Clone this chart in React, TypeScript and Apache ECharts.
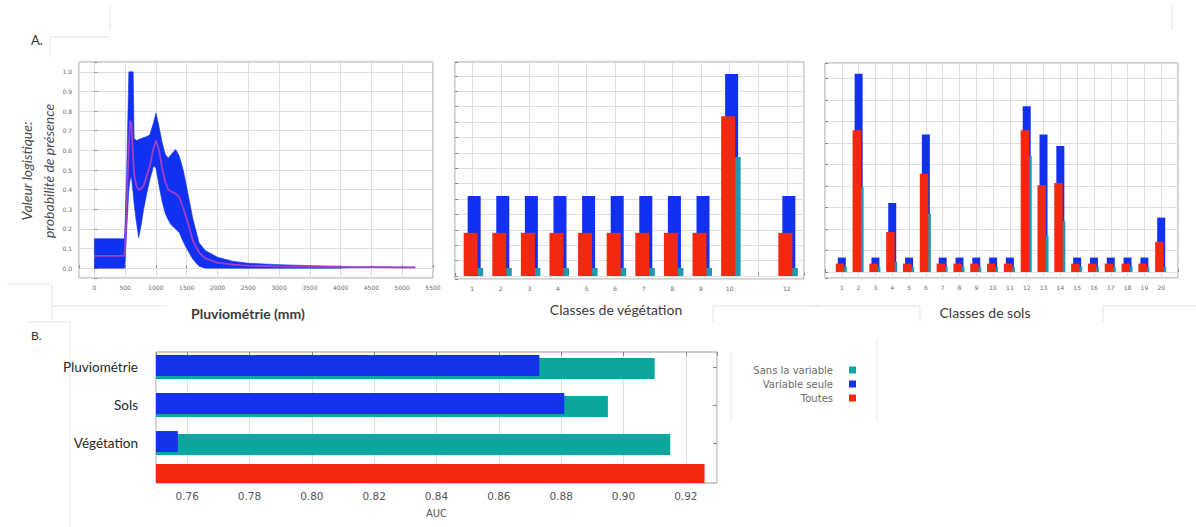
import React, { useEffect, useRef } from 'react';
import * as echarts from 'echarts';

// --- A. Courbe de réponse : pluviométrie (moyenne ± écart-type) ---
const rainfallMm = [0, 488, 500, 525, 560, 580, 600, 630, 645, 680, 720, 760, 800, 850, 900, 960, 1000, 1050, 1100, 1150, 1200, 1250, 1320, 1380, 1450, 1500, 1600, 1700, 1800, 2000, 2250, 2500, 3000, 3500, 4000, 4100, 4500, 5000, 5210];
const rainUpper = [0.15, 0.15, 0.24, 0.5, 1.0, 1.0, 1.0, 1.0, 0.66, 0.65, 0.655, 0.66, 0.665, 0.67, 0.68, 0.74, 0.79, 0.72, 0.64, 0.58, 0.56, 0.58, 0.605, 0.57, 0.49, 0.41, 0.25, 0.13, 0.09, 0.056, 0.035, 0.025, 0.018, 0.013, 0.01, 0.006, 0.006, 0.005, 0.005];
const rainLower = [0, 0, 0.03, 0.2, 0.4, 0.45, 0.47, 0.38, 0.33, 0.24, 0.155, 0.22, 0.3, 0.38, 0.45, 0.52, 0.51, 0.42, 0.34, 0.28, 0.245, 0.22, 0.2, 0.18, 0.13, 0.1, 0.045, 0.01, 0, 0, 0, 0, 0, 0, 0, 0.002, 0.003, 0.003, 0.003];
const rainMean = [0.063, 0.063, 0.12, 0.33, 0.62, 0.75, 0.74, 0.56, 0.48, 0.42, 0.4, 0.405, 0.42, 0.47, 0.52, 0.61, 0.65, 0.6, 0.51, 0.44, 0.4, 0.39, 0.38, 0.36, 0.3, 0.25, 0.14, 0.08, 0.05, 0.028, 0.018, 0.013, 0.009, 0.007, 0.006, 0.005, 0.005, 0.004, 0.004];

// --- Classes de végétation ---
const vegClasses = [1, 2, 3, 4, 5, 6, 7, 8, 9, 10, 12];
const vegTickLabels = ['1', '2', '3', '4', '5', '6', '7', '8', '9', '10', '12'];
const vegMeanPlusSd = [0.26, 0.26, 0.26, 0.26, 0.26, 0.26, 0.26, 0.26, 0.26, 0.656, 0.26];
const vegMean = [0.14, 0.14, 0.14, 0.14, 0.14, 0.14, 0.14, 0.14, 0.14, 0.519, 0.14];
const vegAlone = [0.026, 0.026, 0.026, 0.026, 0.026, 0.026, 0.026, 0.026, 0.026, 0.386, 0.026];

// --- Classes de sols ---
const soilClasses = [1, 2, 3, 4, 5, 6, 7, 8, 9, 10, 11, 12, 13, 14, 15, 16, 17, 18, 19, 20];
const soilMeanPlusSd = [0.067, 0.922, 0.067, 0.321, 0.067, 0.639, 0.067, 0.067, 0.067, 0.067, 0.067, 0.771, 0.639, 0.586, 0.067, 0.067, 0.067, 0.067, 0.067, 0.253];
const soilMean = [0.039, 0.659, 0.039, 0.186, 0.039, 0.457, 0.039, 0.039, 0.039, 0.039, 0.039, 0.659, 0.403, 0.414, 0.039, 0.039, 0.039, 0.039, 0.039, 0.14];
const soilAlone = [0.023, 0.395, 0.023, 0.047, 0.023, 0.27, 0.023, 0.023, 0.023, 0.023, 0.023, 0.54, 0.17, 0.237, 0.023, 0.023, 0.023, 0.023, 0.023, 0.023];

// --- B. Test de Jackknife (AUC) ---
const aucVariables = ['Pluviométrie', 'Sols', 'Végétation'];
const aucWithout = [0.91, 0.895, 0.915];
const aucOnly = [0.873, 0.881, 0.757];
const aucAllRow = ['Toutes'];
const aucAll = [0.926];

const BLUE = '#1230f0';
const RED = '#f4280e';
const CYAN = '#1f98b0';
const MEAN_LINE = '#a23fc9';
const TEAL = '#0ba79e';
const GRID_LINE = '#dedede';
const FRAME = '#9a9a9a';

const zip = (xs: number[], ys: (number | null)[]) => xs.map((x, i) => [x, ys[i]]);

function classBars(offset: number, width: number, color: string) {
  return function (params: any, api: any) {
    const cls = api.value(0);
    const val = api.value(1);
    const top = api.coord([cls, val]);
    const base = api.coord([cls, 0]);
    return {
      type: 'rect',
      shape: { x: top[0] + offset - width / 2, y: top[1], width, height: base[1] - top[1] },
      style: { fill: color },
    };
  };
}

function rainBand(params: any, api: any) {
  if (params.dataIndexInside !== 0) return null;
  const n = params.dataInsideLength;
  const pts: number[][] = [];
  for (let i = 0; i < n; i++) pts.push(api.coord([api.value(0, i), api.value(2, i)]));
  for (let i = n - 1; i >= 0; i--) pts.push(api.coord([api.value(0, i), api.value(1, i)]));
  return {
    type: 'polygon',
    shape: { points: pts },
    style: { fill: BLUE, stroke: BLUE, lineWidth: 0.6 },
  };
}

const tinyLabel = { fontSize: 6, color: '#6a6a6a', fontFamily: 'DejaVu Sans' };
const innerTick = { show: true, inside: true, length: 3, lineStyle: { color: '#888' } };
const gridSplit = { show: true, lineStyle: { color: GRID_LINE, width: 1 } };
const near = (a: number, b: number) => Math.abs(a - b) < 1e-6;

function faintLine(x1: number, y1: number, x2: number, y2: number) {
  return { type: 'line', shape: { x1, y1, x2, y2 }, style: { stroke: '#e4e4e4', lineWidth: 1 }, silent: true };
}

// AUC axis shared by the framed panel and the bar rows
const aucAxisRange = { type: 'value', min: 0.75, max: 0.93, splitNumber: 9, minInterval: 0.02, maxInterval: 0.02 };
const hiddenAxis = { axisLine: { show: false }, axisTick: { show: false }, axisLabel: { show: false }, splitLine: { show: false } };

function buildOption(): any {
  const frame = { show: true, borderColor: FRAME, borderWidth: 1, backgroundColor: '#fff' };
  return {
    animation: false,
    backgroundColor: '#fff',
    grid: [
      { left: 79, top: 62, width: 354, height: 216, ...frame },
      { left: 455, top: 62, width: 349, height: 217, ...frame },
      { left: 825, top: 63, width: 353, height: 215, ...frame },
      { left: 156, top: 352, width: 561, height: 131, ...frame },
      { left: 156, top: 348, width: 561, height: 114 },
      { left: 156, top: 464, width: 561, height: 19 },
    ],
    xAxis: [
      {
        type: 'value', gridIndex: 0, min: -250, max: 5500, splitNumber: 11, minInterval: 500, maxInterval: 500,
        axisLine: { show: false }, axisTick: innerTick, splitLine: gridSplit,
        axisLabel: { ...tinyLabel, margin: 6, formatter: (v: number) => (v >= 0 ? String(v) : '') },
      },
      {
        type: 'value', gridIndex: 1, min: 0.4, max: 12.6, splitNumber: 12, minInterval: 1, maxInterval: 1,
        axisLine: { show: false }, axisTick: innerTick, splitLine: gridSplit,
        axisLabel: {
          ...tinyLabel, margin: 6,
          formatter: (v: number) => (near(v, Math.round(v)) && vegTickLabels.includes(String(Math.round(v))) ? String(Math.round(v)) : ''),
        },
      },
      {
        type: 'value', gridIndex: 2, min: 0, max: 21, interval: 1,
        axisLine: { show: false }, axisTick: innerTick, splitLine: gridSplit,
        axisLabel: { ...tinyLabel, margin: 6, formatter: (v: number) => (v >= 1 && v <= 20 ? String(v) : '') },
      },
      {
        ...aucAxisRange, gridIndex: 3,
        axisLine: { show: false }, axisTick: { show: false }, splitLine: gridSplit,
        axisLabel: {
          fontSize: 10.5, color: '#555', fontFamily: 'DejaVu Sans', margin: 7,
          formatter: (v: number) => (v > 0.755 && v < 0.925 ? v.toFixed(2) : ''),
        },
        name: 'AUC', nameLocation: 'middle', nameGap: 25,
        nameTextStyle: { fontSize: 10, color: '#555', fontFamily: 'DejaVu Sans' },
      },
      {
        ...aucAxisRange, gridIndex: 3, position: 'top',
        axisLine: { show: false }, axisTick: { show: true, inside: true, length: 4, lineStyle: { color: '#888' } },
        axisLabel: { show: false }, splitLine: { show: false },
      },
      { ...aucAxisRange, gridIndex: 4, ...hiddenAxis },
      { ...aucAxisRange, gridIndex: 5, ...hiddenAxis },
    ],
    yAxis: [
      {
        type: 'value', gridIndex: 0, min: -0.05, max: 1.05, splitNumber: 11, minInterval: 0.1, maxInterval: 0.1,
        axisLine: { show: false }, axisTick: innerTick, splitLine: gridSplit,
        axisLabel: { ...tinyLabel, margin: 7, formatter: (v: number) => (v > -0.001 && v < 1.001 ? v.toFixed(1) : '') },
      },
      {
        type: 'value', gridIndex: 1, min: -0.01, max: 0.695, splitNumber: 14, minInterval: 0.05, maxInterval: 0.05,
        axisLine: { show: false }, axisTick: innerTick, splitLine: gridSplit, axisLabel: { show: false },
      },
      {
        type: 'value', gridIndex: 2, min: -0.028, max: 0.972, splitNumber: 10, minInterval: 0.1, maxInterval: 0.1,
        axisLine: { show: false }, axisTick: innerTick, splitLine: gridSplit, axisLabel: { show: false },
      },
      { type: 'value', gridIndex: 3, show: false },
      {
        type: 'category', gridIndex: 4, data: aucVariables, inverse: true,
        axisLine: { show: false }, axisTick: { show: false }, splitLine: { show: false },
        axisLabel: { fontSize: 13.5, color: '#262626', fontFamily: 'Lato', margin: 18 },
      },
      {
        type: 'category', gridIndex: 4, data: aucVariables, inverse: true, position: 'right',
        axisLine: { show: false }, axisLabel: { show: false }, splitLine: { show: false },
        axisTick: { show: true, inside: true, length: 4, alignWithLabel: true, lineStyle: { color: '#888' } },
      },
      { type: 'category', gridIndex: 5, data: aucAllRow, ...hiddenAxis },
    ],
    legend: {
      data: ['Sans la variable', 'Variable seule', 'Toutes'],
      orient: 'vertical', align: 'right', right: 335, top: 360,
      itemWidth: 7, itemHeight: 7, itemGap: 4, icon: 'rect', selectedMode: false,
      textStyle: { fontSize: 10, color: '#6a6a6a', fontFamily: 'DejaVu Sans', padding: [0, 11, 0, 0] },
    },
    series: [
      {
        type: 'custom', name: 'bande', xAxisIndex: 0, yAxisIndex: 0, clip: true,
        data: rainfallMm.map((x, i) => [x, rainLower[i], rainUpper[i]]),
        encode: { x: 0, y: [1, 2] }, renderItem: rainBand,
      },
      {
        type: 'line', name: 'moyenne', xAxisIndex: 0, yAxisIndex: 0, symbol: 'none',
        data: zip(rainfallMm, rainMean), lineStyle: { color: MEAN_LINE, width: 1.8 }, itemStyle: { color: MEAN_LINE },
      },
      { type: 'custom', xAxisIndex: 1, yAxisIndex: 1, clip: true, data: zip(vegClasses, vegMeanPlusSd), encode: { x: 0, y: 1 }, renderItem: classBars(2, 13, BLUE) },
      { type: 'custom', xAxisIndex: 1, yAxisIndex: 1, clip: true, data: zip(vegClasses, vegAlone), encode: { x: 0, y: 1 }, renderItem: classBars(8, 6, CYAN) },
      { type: 'custom', xAxisIndex: 1, yAxisIndex: 1, clip: true, data: zip(vegClasses, vegMean), encode: { x: 0, y: 1 }, renderItem: classBars(-1.5, 14, RED) },
      { type: 'custom', xAxisIndex: 2, yAxisIndex: 2, clip: true, data: zip(soilClasses, soilMeanPlusSd), encode: { x: 0, y: 1 }, renderItem: classBars(0, 8, BLUE) },
      { type: 'custom', xAxisIndex: 2, yAxisIndex: 2, clip: true, data: zip(soilClasses, soilAlone), encode: { x: 0, y: 1 }, renderItem: classBars(3.5, 3, CYAN) },
      { type: 'custom', xAxisIndex: 2, yAxisIndex: 2, clip: true, data: zip(soilClasses, soilMean), encode: { x: 0, y: 1 }, renderItem: classBars(-1.8, 8.5, RED) },
      {
        type: 'bar', name: 'Variable seule', xAxisIndex: 5, yAxisIndex: 4, data: aucOnly,
        barWidth: 21, z: 3, itemStyle: { color: '#1433e8' },
      },
      {
        type: 'bar', name: 'Sans la variable', xAxisIndex: 5, yAxisIndex: 4, data: aucWithout,
        barWidth: 21, barGap: '-86%', z: 2, itemStyle: { color: TEAL },
      },
      {
        type: 'bar', name: 'Toutes', xAxisIndex: 6, yAxisIndex: 6, data: aucAll,
        barWidth: 19, itemStyle: { color: RED },
      },
    ],
    graphic: [
      faintLine(110, 6, 110, 30),
      faintLine(1172, 6, 1172, 30),
      faintLine(50, 37, 110, 37),
      faintLine(50, 37, 50, 57),
      faintLine(7, 284, 50, 284),
      faintLine(52, 284, 52, 320),
      faintLine(52, 306, 167, 306),
      faintLine(713, 306, 820, 306),
      faintLine(713, 306, 713, 322),
      faintLine(810, 306, 920, 306),
      faintLine(920, 306, 920, 322),
      faintLine(1103, 306, 1196, 306),
      faintLine(1103, 306, 1103, 322),
      faintLine(28, 322, 70, 322),
      faintLine(70, 322, 70, 527),
      faintLine(731, 352, 731, 420),
      faintLine(877, 340, 877, 420),
      { type: 'text', left: 31, top: 33, style: { text: 'A.', font: '13px Lato', fill: '#333' } },
      { type: 'text', left: 31, top: 329, style: { text: 'B.', font: '12px Lato', fill: '#333' } },
      {
        type: 'text', x: 37, y: 171, rotation: Math.PI / 2,
        style: {
          text: 'Valeur logistique:\nprobabilité de présence', font: 'italic 14px Lato', fill: '#4a4a4a',
          lineHeight: 22, textAlign: 'center', textVerticalAlign: 'middle',
        },
      },
      { type: 'text', x: 248, y: 313, style: { text: 'Pluviométrie (mm)', font: 'bold 14px Lato', fill: '#3a3a3a', textAlign: 'center', textVerticalAlign: 'middle' } },
      { type: 'text', x: 616, y: 309, style: { text: 'Classes de végétation', font: '14px Lato', fill: '#3a3a3a', textAlign: 'center', textVerticalAlign: 'middle' } },
      { type: 'text', x: 985, y: 312, style: { text: 'Classes de sols', font: '14px Lato', fill: '#3a3a3a', textAlign: 'center', textVerticalAlign: 'middle' } },
    ],
  };
}

export default function App() {
  const ref = useRef<HTMLDivElement>(null);
  useEffect(() => {
    if (!ref.current) return;
    const chart = echarts.init(ref.current, undefined, { renderer: 'svg' });
    chart.setOption(buildOption());
    return () => chart.dispose();
  }, []);
  return (
    <div
      ref={ref}
      style={{ position: 'absolute', left: 0, top: 0, width: 1196, height: 527, background: '#fff' }}
    />
  );
}
